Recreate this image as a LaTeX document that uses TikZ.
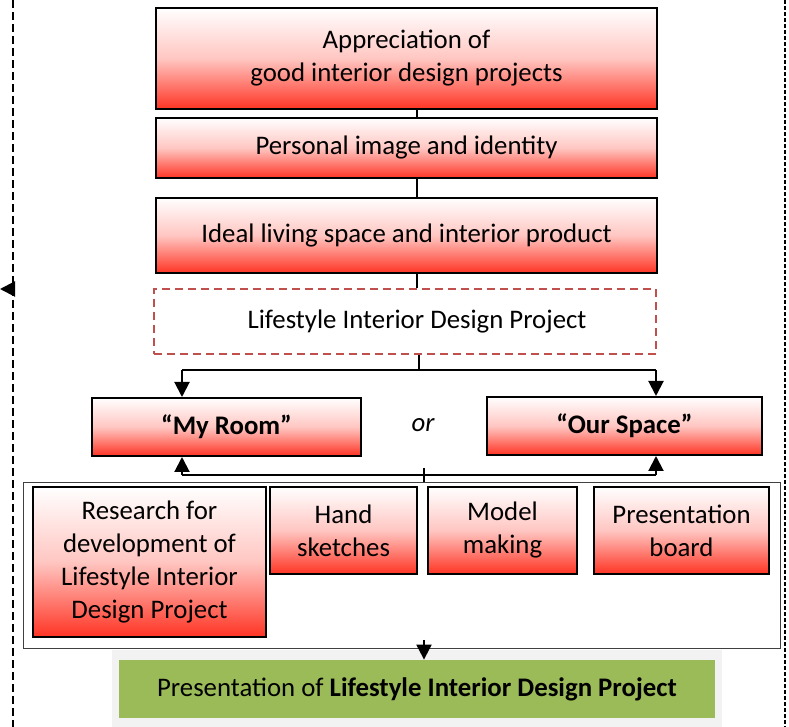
\documentclass[tikz,border=0pt]{standalone}
\usepackage{fontspec}
\setmainfont{Carlito}
\usetikzlibrary{arrows.meta,positioning}
\definecolor{boxred}{RGB}{255,52,36}
\definecolor{dashred}{RGB}{192,80,77}
\definecolor{leafgreen}{RGB}{155,187,89}
\definecolor{paleback}{RGB}{242,242,242}
\tikzset{
  boxtext/.style={align=center, inner sep=0pt, font=\fontsize{13.4}{16.5}\selectfont},
  redbox/.style={boxtext, draw=black, line width=1pt, top color=white, bottom color=boxred, middle color=boxred!28!white},
  link/.style={line width=1pt},
  tip/.style={-{Triangle[length=7.5pt,width=7.5pt]}},
  sideline/.style={line width=1pt, dash pattern=on 4pt off 2pt}
}
\begin{document}
\begin{tikzpicture}[x=0.5pt, y=-0.5pt]
\useasboundingbox (0,0) rectangle (789,727);
% side lines
\draw[sideline] (13,0) -- (13,727);
\draw[line width=1pt, dash pattern=on 2pt off 1pt] (785,0) -- (785,727);
\draw[link,tip] (14,289) -- (0,289);
% upper chain
\node[redbox, minimum width=250.5pt, minimum height=50.5pt] (appr) at (406.5,58.5) {Appreciation of\\good interior design projects};
\node[redbox, minimum width=250.5pt, minimum height=30pt] (image) at (406.5,148) {Personal image and identity};
\node[redbox, minimum width=250.5pt, minimum height=37.5pt] (ideal) at (406.5,235.5) {Ideal living space and interior product};
\node[boxtext, draw=dashred, line width=1pt, dash pattern=on 4pt off 2.5pt, minimum width=251pt, minimum height=32.5pt] (lidp) at (405,321.5) {\hspace{12pt}Lifestyle Interior Design Project};
\coordinate (spine) at (417,0);
\draw[link] (appr.south -| spine) -- (image.north -| spine);
\draw[link] (image.south -| spine) -- (ideal.north -| spine);
\draw[link] (ideal.south -| spine) -- (lidp.north -| spine);
% two choices
\node[redbox, minimum width=134.5pt, minimum height=29pt] (myroom) at (226.5,427) {\textbf{“My Room”}};
\node[redbox, minimum width=137.5pt, minimum height=29pt] (ourspace) at (624.5,426) {\textbf{“Our Space”}};
\node[boxtext] (or) at (423,425) {\itshape or};
\coordinate (split) at (419,370);
\coordinate (leftend) at (182,370);
\coordinate (rightend) at (656,370);
\draw[link] (lidp.south -| split) -- (split);
\draw[link] (leftend) -- (rightend);
\draw[link,tip] (leftend) -- (leftend |- myroom.north);
\draw[link,tip] (rightend) -- (rightend |- ourspace.north);
% tasks
\fill[paleback] (112,650) rectangle (722,727);
\node[draw=black!75, line width=0.5pt, inner sep=0pt, minimum width=378.5pt, minimum height=83pt] (frame) at (401.5,566) {};
\node[redbox, minimum width=116.5pt, minimum height=75pt] (research) at (149.5,562) {Research for\\development of\\Lifestyle Interior\\Design Project};
\node[redbox, minimum width=73.5pt, minimum height=43.5pt] (hand) at (343.5,530.5) {Hand\\sketches};
\node[redbox, minimum width=74.5pt, minimum height=43.5pt] (model) at (502.5,530.5) {Model\\making};
\node[redbox, minimum width=87.5pt, minimum height=43.5pt] (board) at (681.5,530.5) {Presentation\\board};
\coordinate (merge) at (424,475);
\coordinate (leftup) at (182,475);
\coordinate (rightup) at (656,475);
\draw[link] (leftup) -- (rightup);
\draw[link] (424,468) -- (frame.north -| merge);
\draw[link,tip] (leftup) -- (leftup |- myroom.south);
\draw[link,tip] (rightup) -- (rightup |- ourspace.south);
% result
\node[boxtext, fill=leafgreen, minimum width=298pt, minimum height=29pt] (result) at (417,689) {Presentation of \textbf{Lifestyle Interior Design Project}};
\draw[link,tip] (424,640) -- (result.north -| merge);
\end{tikzpicture}
\end{document}
